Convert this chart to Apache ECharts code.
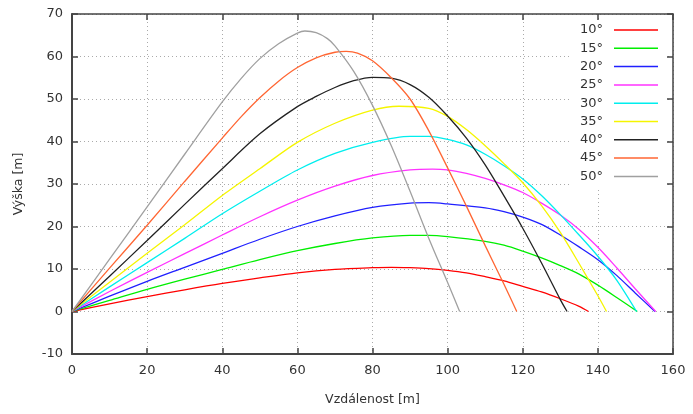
<!DOCTYPE html>
<html>
<head>
<meta charset="utf-8">
<script src="https://cdn.jsdelivr.net/npm/echarts@6/dist/echarts.min.js"></script>
<style>
html,body{margin:0;padding:0;background:#fff;}
#chart{width:693px;height:414px;}
</style>
</head>
<body>
<div id="chart"></div>
<script>
// ---- data ----
const angleNames = ['10°','15°','20°','25°','30°','35°','40°','45°','50°'];
const seriesColors = ['#ff0000','#00ee00','#2020ff','#ff33ff','#00eeee','#f5f500','#222222','#ff6633','#a0a0a0'];

const traj10 = [[0,0],[10,1.8],[20,3.5],[30,5.1],[40,6.6],[50,7.9],[60,9.1],[70,9.9],[80,10.3],[85,10.4],[90,10.3],[95,10.1],[100,9.7],[105,9.1],[110,8.2],[115,7.2],[120,5.9],[125,4.6],[130,3.0],[135,1.2],[137.5,0]];
const traj15 = [[0,0],[10,2.6],[20,5.2],[30,7.6],[40,9.9],[50,12.2],[60,14.3],[70,16.0],[80,17.3],[90,17.9],[95,17.9],[100,17.6],[110,16.5],[115,15.6],[120,14.2],[125,12.6],[130,10.8],[135,8.8],[140,6.2],[145,3.3],[150.5,0]];
const traj20 = [[0,0],[10,3.6],[20,7.1],[30,10.4],[40,13.7],[50,17.0],[60,20.0],[70,22.5],[80,24.5],[90,25.5],[95,25.6],[100,25.3],[110,24.4],[115,23.5],[120,22.2],[125,20.5],[130,18.0],[135,15.2],[140,12.2],[145,8.5],[150,4.3],[155.2,0]];
const traj25 = [[0,0],[10,4.7],[20,9.2],[30,13.6],[40,18.0],[50,22.3],[60,26.2],[70,29.5],[80,32.0],[90,33.3],[96,33.5],[100,33.3],[105,32.5],[110,31.3],[115,29.8],[120,28.0],[125,25.5],[130,22.7],[135,19.3],[140,15.1],[145,10.3],[150,5.3],[155.4,0]];
const traj30 = [[0,0],[10,5.8],[20,11.5],[30,17.2],[40,23.0],[50,28.3],[60,33.3],[70,37.2],[80,39.8],[90,41.2],[95,41.2],[100,40.5],[105,39.2],[110,37.0],[115,34.3],[120,31.2],[125,27.3],[130,22.8],[135,18.0],[140,13.0],[145,7.4],[150.3,0]];
const traj35 = [[0,0],[10,6.9],[20,13.7],[30,20.4],[40,27.3],[50,33.6],[60,39.8],[70,44.3],[80,47.4],[87,48.3],[95,47.8],[100,45.9],[105,42.8],[110,39.0],[115,34.8],[120,30.3],[125,24.9],[130,18.6],[135,11.3],[140,3.7],[142.3,0]];
const traj40 = [[0,0],[10,8.3],[20,16.7],[30,25.2],[40,33.6],[50,41.8],[60,48.2],[65,50.6],[70,52.7],[75,54.3],[80,55.1],[85,54.9],[90,53.4],[95,50.4],[100,46.0],[105,40.8],[110,34.5],[115,27.2],[120,19.6],[125,11.4],[130,2.8],[131.8,0]];
const traj45 = [[0,0],[10,10.2],[20,20.3],[30,30.6],[40,40.8],[45,45.8],[50,50.3],[55,54.2],[60,57.4],[65,59.7],[70,61.0],[73,61.2],[76,60.8],[80,59.0],[85,55.0],[90,50.0],[95,42.5],[100,33.8],[105,24.8],[110,15.5],[115,6.4],[118.4,0]];
const traj50 = [[0,0],[10,12.3],[20,24.6],[30,37.0],[40,49.3],[45,54.8],[50,59.5],[55,63.0],[60,65.5],[62,66.0],[65,65.6],[68,64.2],[70,62.5],[75,56.5],[80,48.5],[85,39.0],[90,28.3],[95,17.2],[100,6.8],[103.2,0]];

const trajectories = [traj10, traj15, traj20, traj25, traj30, traj35, traj40, traj45, traj50];

const xTicks = {min: 0, max: 160, step: 20};
const yTicks = {min: -10, max: 70, step: 10};

const FONT = 'DejaVu Sans';
const TXT = '#333';
const AX = '#444';

const chart = echarts.init(document.getElementById('chart'), null, {renderer: 'canvas'});

const gridStyle = {show: true, lineStyle: {color: '#aaa', type: [1, 3], width: 1}};

const option = {
  animation: false,
  backgroundColor: '#fff',
  grid: {left: 72, right: 20, top: 14, bottom: 60, containLabel: false},
  legend: {
    orient: 'vertical',
    right: 27,
    top: 20,
    align: 'right',
    icon: 'rect',
    itemWidth: 44,
    itemHeight: 1.5,
    itemGap: 4.3,
    padding: [3, 8, 4, 10],
    backgroundColor: '#fff',
    textStyle: {fontFamily: FONT, fontSize: 13, color: TXT, lineHeight: 14, padding: [0, 6, 0, 0]},
    data: angleNames
  },
  xAxis: [
    {
      type: 'value', min: xTicks.min, max: xTicks.max, interval: xTicks.step,
      name: 'Vzdálenost [m]', nameLocation: 'middle', nameGap: 39,
      nameTextStyle: {fontFamily: FONT, fontSize: 12.5, color: TXT},
      axisLine: {show: true, onZero: false, lineStyle: {color: AX, width: 2}},
      axisTick: {show: true, inside: true, length: 6, lineStyle: {color: AX, width: 1.5}},
      axisLabel: {fontFamily: FONT, fontSize: 13, color: TXT, margin: 10},
      splitLine: gridStyle
    },
    {
      type: 'value', position: 'top', min: xTicks.min, max: xTicks.max, interval: xTicks.step,
      axisLine: {show: true, onZero: false, lineStyle: {color: AX, width: 1.5}},
      axisTick: {show: true, inside: true, length: 6, lineStyle: {color: AX, width: 1.5}},
      axisLabel: {show: false}, splitLine: {show: false}
    }
  ],
  yAxis: [
    {
      type: 'value', min: yTicks.min, max: yTicks.max, interval: yTicks.step,
      name: 'Výška [m]', nameLocation: 'middle', nameGap: 47,
      nameTextStyle: {fontFamily: FONT, fontSize: 12.5, color: TXT},
      axisLine: {show: true, onZero: false, lineStyle: {color: AX, width: 2}},
      axisTick: {show: true, inside: true, length: 6, lineStyle: {color: AX, width: 1.5}},
      axisLabel: {fontFamily: FONT, fontSize: 13, color: TXT, margin: 9},
      splitLine: gridStyle
    },
    {
      type: 'value', position: 'right', min: yTicks.min, max: yTicks.max, interval: yTicks.step,
      axisLine: {show: true, onZero: false, lineStyle: {color: AX, width: 1.5}},
      axisTick: {show: true, inside: true, length: 6, lineStyle: {color: AX, width: 1.5}},
      axisLabel: {show: false}, splitLine: {show: false}
    }
  ],
  series: trajectories.map((d, i) => ({
    name: angleNames[i],
    type: 'line',
    data: d,
    xAxisIndex: 0,
    yAxisIndex: 0,
    smooth: 0.3,
    showSymbol: false,
    symbol: 'none',
    color: seriesColors[i],
    lineStyle: {width: 1.3, color: seriesColors[i]},
    z: 2 + i
  }))
};

chart.setOption(option);
</script>
</body>
</html>
